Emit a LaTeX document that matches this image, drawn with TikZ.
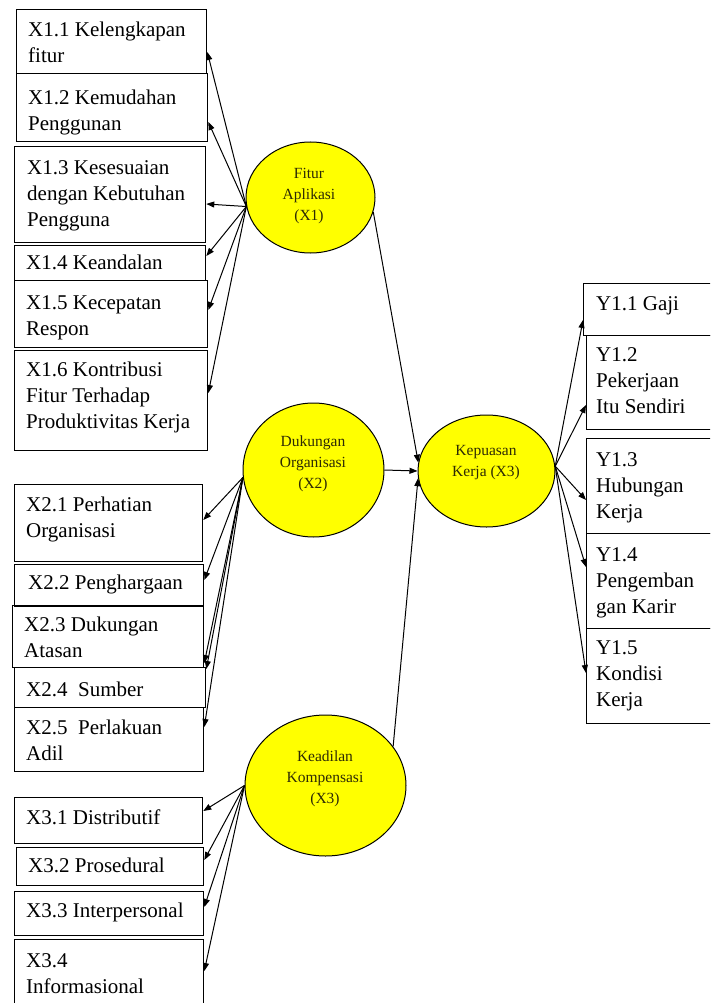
\documentclass[tikz,border=0pt]{standalone}
\usepackage{fontspec}
\setmainfont{Liberation Serif}
\usetikzlibrary{arrows.meta,shapes.geometric}
\definecolor{latyellow}{RGB}{255,255,0}
\definecolor{lattext}{RGB}{45,42,5}
\begin{document}
\begin{tikzpicture}[x=1pt,y=-1pt,
  boxst/.style={draw, line width=1.3pt, rectangle, inner sep=0pt, anchor=north west},
  lbl/.style={anchor=north west, inner sep=0pt, align=left, font=\fontsize{21}{26}\selectfont},
  lat/.style={draw, ellipse, fill=latyellow, line width=1pt, inner sep=0pt},
  lattxt/.style={align=center, inner sep=0pt, text=lattext, font=\fontsize{15.5}{21}\selectfont},
  arr/.style={-{Triangle[length=8pt,width=6pt]}, line width=1pt}]
\useasboundingbox (0,0) rectangle (710,1003);
\fill[white] (0,0) rectangle (710,1003);
\clip (0,0) rectangle (710,1003);

% ---- X1 indicator boxes
\node[boxst, minimum width=190pt, minimum height=64pt] (b11) at (16,9) {};
\node[boxst, minimum width=191pt, minimum height=68pt] (b12) at (16,73) {};
\node[boxst, minimum width=191pt, minimum height=96pt] (b13) at (14,146) {};
\node[boxst, minimum width=191pt, minimum height=35pt] (b14) at (14,245) {};
\node[boxst, minimum width=193pt, minimum height=67pt] (b15) at (14,280) {};
\node[boxst, minimum width=193pt, minimum height=100pt] (b16) at (14,350) {};
\node[lbl] (t11) at (28,22) {X1.1 Kelengkapan\\fitur};
\node[lbl] (t12) at (28,90) {X1.2 Kemudahan\\Penggunan};
\node[lbl] (t13) at (27,160) {X1.3 Kesesuaian\\dengan Kebutuhan\\Pengguna};
\node[lbl] (t14) at (26,255) {X1.4 Keandalan};
\node[lbl] (t15) at (26,295) {X1.5 Kecepatan\\Respon};
\node[lbl] (t16) at (26,362) {X1.6 Kontribusi\\Fitur Terhadap\\Produktivitas Kerja};

% ---- X2 indicator boxes
\node[boxst, minimum width=188pt, minimum height=77pt] (b21) at (14,484) {};
\node[boxst, minimum width=189pt, minimum height=42pt] (b22) at (14,564) {};
\node[boxst, minimum width=191pt, minimum height=62pt] (b23) at (12,605) {};
\node[boxst, minimum width=191pt, minimum height=40pt] (b24) at (14,667) {};
\node[boxst, minimum width=189pt, minimum height=64pt] (b25) at (14,707) {};
\node[lbl] (t21) at (26,497) {X2.1 Perhatian\\Organisasi};
\node[lbl] (t22) at (28,575) {X2.2 Penghargaan};
\node[lbl] (t23) at (24,617) {X2.3 Dukungan\\Atasan};
\node[lbl] (t24) at (26,682) {X2.4\ \ Sumber};
\node[lbl] (t25) at (26,720) {X2.5\ \ Perlakuan\\Adil};

% ---- X3 indicator boxes
\node[boxst, minimum width=188pt, minimum height=46pt] (b31) at (14,797) {};
\node[boxst, minimum width=187pt, minimum height=38pt] (b32) at (16,847) {};
\node[boxst, minimum width=189pt, minimum height=44pt] (b33) at (14,891) {};
\node[boxst, minimum width=189pt, minimum height=80pt] (b34) at (14,939) {};
\node[lbl] (t31) at (26,810) {X3.1 Distributif};
\node[lbl] (t32) at (28,858) {X3.2 Prosedural};
\node[lbl] (t33) at (26,903) {X3.3 Interpersonal};
\node[lbl] (t34) at (26,953) {X3.4\\Informasional};

% ---- Y indicator boxes
\node[boxst, minimum width=140pt, minimum height=52pt] (y11) at (583,283) {};
\node[boxst, minimum width=140pt, minimum height=94pt] (y12) at (586,335) {};
\node[boxst, minimum width=140pt, minimum height=95pt] (y13) at (586,438) {};
\node[boxst, minimum width=140pt, minimum height=95pt] (y14) at (586,533) {};
\node[boxst, minimum width=140pt, minimum height=95pt] (y15) at (586,628) {};
\node[lbl] (u11) at (596,296) {Y1.1 Gaji};
\node[lbl] (u12) at (596,347) {Y1.2\\Pekerjaan\\Itu Sendiri};
\node[lbl] (u13) at (596,452) {Y1.3\\Hubungan\\Kerja};
\node[lbl] (u14) at (596,547) {Y1.4\\Pengemban\\gan Karir};
\node[lbl] (u15) at (596,640) {Y1.5\\Kondisi\\Kerja};

% ---- latent variables
\node[lat, minimum width=129pt, minimum height=111pt] (fa) at (310.5,197.5) {};
\node[lat, minimum width=141pt, minimum height=134pt] (do) at (313.5,470) {};
\node[lat, minimum width=161pt, minimum height=141pt] (kk) at (325.5,785.5) {};
\node[lat, minimum width=137pt, minimum height=112pt] (kp) at (486.5,471) {};
\node[lattxt] (fat) at (309,196) {Fitur\\Aplikasi\\(X1)};
\node[lattxt] (dot) at (313,464) {Dukungan\\Organisasi\\(X2)};
\node[lattxt] (kkt) at (325,779) {Keadilan\\Kompensasi\\(X3)};
\node[lattxt] (kpt) at (486,463) {Kepuasan\\Kerja (X3)};

% ---- loadings X1
\draw[arr] (fa.188) -- ([yshift=-43pt]b11.north east);
\draw[arr] (fa.188) -- ([yshift=-49pt]b12.north east);
\draw[arr] (fa.188) -- ([yshift=-58pt]b13.north east);
\draw[arr] (fa.188) -- ([yshift=-11pt]b14.north east);
\draw[arr] (fa.188) -- ([yshift=-30pt]b15.north east);
\draw[arr] (fa.188) -- ([yshift=-43pt]b16.north east);

% ---- loadings X2
\draw[arr] (do.186) -- ([yshift=-36pt]b21.north east);
\draw[arr] (do.186) -- ([yshift=-16pt]b22.north east);
\draw[arr] (do.186) -- ([yshift=-58pt]b23.north east);
\draw[arr] (do.186) -- ([yshift=-2pt]b24.north east);
\draw[arr] (do.186) -- ([yshift=-20pt]b25.north east);

% ---- loadings X3
\draw[arr] (kk.west) -- ([yshift=-14pt]b31.north east);
\draw[arr] (kk.west) -- ([yshift=-13pt]b32.north east);
\draw[arr] (kk.west) -- ([yshift=-16pt]b33.north east);
\draw[arr] (kk.west) -- ([yshift=-32pt]b34.north east);

% ---- loadings Y
\draw[arr] (kp.4) -- ([yshift=-37pt]y11.north west);
\draw[arr] (kp.4) -- ([yshift=-70pt]y12.north west);
\draw[arr] (kp.4) -- ([yshift=-62pt]y13.north west);
\draw[arr] (kp.4) -- ([yshift=-34pt]y14.north west);
\draw[arr] (kp.4) -- ([yshift=-45pt]y15.north west);

% ---- structural paths
\draw[arr] (fa.-13) -- (kp.173);
\draw[arr] (do.east) -- (kp.west);
\draw[arr] (kk.30) -- (kp.186);
\end{tikzpicture}
\end{document}
